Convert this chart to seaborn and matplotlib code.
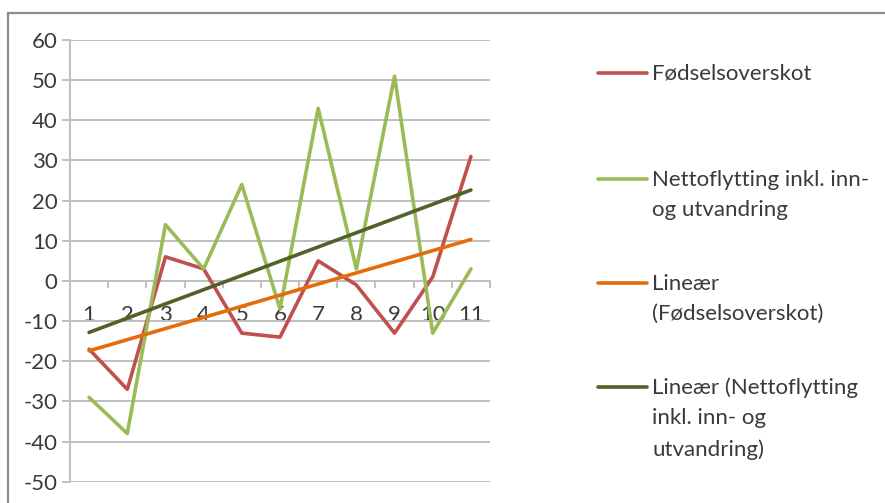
import numpy as np
import pandas as pd
import matplotlib
matplotlib.use("Agg")
import matplotlib.pyplot as plt
from matplotlib.lines import Line2D
from matplotlib.patches import Rectangle
from matplotlib.ticker import MultipleLocator
import seaborn as sns

# Years (category index) and the two components of population change
years = list(range(1, 12))
fodselsoverskot = [-17, -27, 6, 3, -13, -14, 5, -1, -13, 1, 31]
nettoflytting = [-29, -38, 14, 3, 24, -7, 43, 3, 51, -13, 3]

series_names = [
    "Fødselsoverskot",
    "Nettoflytting inkl. inn-\nog utvandring",
    "Lineær\n(Fødselsoverskot)",
    "Lineær (Nettoflytting\ninkl. inn- og\nutvandring)",
]
series_colors = ["#C0504D", "#9BBB59", "#E46C0A", "#4F6228"]
y_ticks = list(range(-50, 61, 10))

sns.set_theme(style="white")
plt.rcParams["font.family"] = ["Lato", "DejaVu Sans"]
plt.rcParams["axes.unicode_minus"] = False
text_color = "#3A3A3A"
grid_color = "#BFBFBF"
font_size = 16

fig = plt.figure(figsize=(8.85, 5.03), dpi=100)
ax = fig.add_axes([70 / 885, 1 - 481.7 / 503, 420 / 885, (481.7 - 40) / 503])

# Raw series
df = pd.DataFrame({
    "year": years * 2,
    "value": fodselsoverskot + nettoflytting,
    "series": [series_names[0]] * len(years) + [series_names[1]] * len(years),
})
sns.lineplot(data=df, x="year", y="value", hue="series",
             palette=series_colors[:2], hue_order=series_names[:2],
             linewidth=2.6, legend=False, ax=ax, zorder=3)

# Linear trend lines fitted to each series
x = np.array(years, dtype=float)
trends = []
for vals in (fodselsoverskot, nettoflytting):
    k, m = np.polyfit(x, np.array(vals, dtype=float), 1)
    trends.append(k * x + m)
tdf = pd.DataFrame({
    "year": years * 2,
    "value": np.concatenate(trends),
    "series": [series_names[2]] * len(years) + [series_names[3]] * len(years),
})
sns.lineplot(data=tdf, x="year", y="value", hue="series",
             palette=series_colors[2:], hue_order=series_names[2:],
             linewidth=2.6, legend=False, ax=ax, zorder=4)

# Axes: category x-axis crossing at zero, horizontal gridlines
ax.set_xlim(0.5, 11.5)
ax.set_ylim(-50, 60)
ax.set_yticks(y_ticks)
ax.set_xticks(years)
ax.xaxis.set_minor_locator(MultipleLocator(1, offset=0.5))
ax.set_xlabel("")
ax.set_ylabel("")
ax.yaxis.grid(True, color=grid_color, linewidth=1.4)
ax.set_axisbelow(True)

for side in ("top", "right"):
    ax.spines[side].set_visible(False)
ax.spines["bottom"].set_position(("data", 0))
ax.spines["bottom"].set_color(grid_color)
ax.spines["bottom"].set_linewidth(1.4)
ax.spines["bottom"].set_zorder(2)
ax.spines["left"].set_color(grid_color)
ax.spines["left"].set_linewidth(1.4)

ax.tick_params(axis="y", which="major", direction="out", length=6, width=1.4,
               color=grid_color, pad=3, labelsize=font_size,
               labelcolor=text_color, left=True)
ax.tick_params(axis="x", which="major", length=0, pad=17, labelsize=font_size,
               labelcolor=text_color, bottom=True)
ax.tick_params(axis="x", which="minor", direction="out", length=5, width=1.4,
               color=grid_color, bottom=True)

# Legend to the right, handle aligned with the first line of each label
legend_y = [73, 179, 283, 387]
for name, color, yp in zip(series_names, series_colors, legend_y):
    yf = 1 - yp / 503
    fig.add_artist(Line2D([598 / 885, 647 / 885], [yf, yf], color=color,
                          linewidth=2.6, transform=fig.transFigure))
    fig.text(652 / 885, yf + 9.5 / 503, name, ha="left", va="top",
             fontsize=font_size, color=text_color, linespacing=1.64,
             transform=fig.transFigure)

# Chart area border
fig.add_artist(Rectangle((8 / 885, -0.2), 1.2, 1.2 - 12.5 / 503,
                         transform=fig.transFigure, fill=False,
                         edgecolor="#8C8C8C", linewidth=1.6, clip_on=False))

fig.savefig("out.png", dpi=100)
